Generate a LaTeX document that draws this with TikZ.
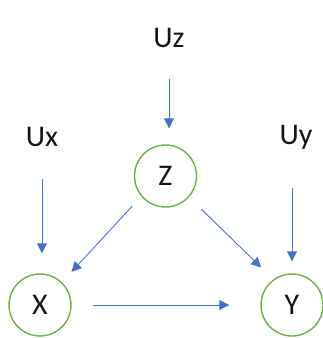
\documentclass[tikz,border=0pt]{standalone}
\usepackage{fontspec}
\setmainfont{Carlito}
\usetikzlibrary{arrows.meta}
\definecolor{arrblue}{RGB}{68,114,196}
\definecolor{nodegreen}{RGB}{112,173,71}
\definecolor{txt}{RGB}{20,20,20}
\tikzset{
  var/.style={circle, draw=nodegreen, line width=1.4pt, minimum size=62pt, inner sep=0pt, text=txt, font=\fontsize{30}{30}\selectfont},
  lbl/.style={inner sep=0pt, text=txt, font=\fontsize{30}{30}\selectfont},
  arr/.style={draw=arrblue, line width=0.9pt, -{Triangle[length=10pt,width=10pt]}, color=arrblue}
}
\begin{document}
\begin{tikzpicture}[x=1pt,y=-1pt]
\useasboundingbox (0,0) rectangle (323,338);
\node[var] (Z) at (165.5,176) {Z};
\node[var] (X) at (40,305) {X};
\node[var] (Y) at (292,305) {Y};
\node[lbl] (Uz) at (169,38) {Uz};
\node[lbl] (Ux) at (42,137) {Ux};
\node[lbl] (Uy) at (296,137) {Uy};
\draw[arr, shorten <=41pt, shorten >=16pt] (Uz.center) -- (Uz.center |- Z.north);
\draw[arr, shorten <=42pt, shorten >=20pt] (Ux.center) -- (Ux.center |- X.north);
\draw[arr, shorten <=51pt, shorten >=12pt] (Uy.center -| Y.center) -- (Y.north);
\draw[arr, shorten <=13pt, shorten >=14pt] (Z.220) -- (X.46);
\draw[arr, shorten <=17pt, shorten >=17pt] (Z.318) -- (Y.126);
\draw[arr, shorten <=21pt, shorten >=31pt] (X.east) -- (Y.west);
\end{tikzpicture}
\end{document}
